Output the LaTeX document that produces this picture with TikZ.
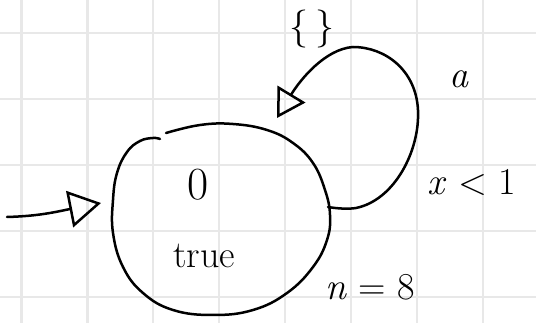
\documentclass[tikz,border=0pt]{standalone}
\usetikzlibrary{arrows.meta,shapes.geometric}
\tikzset{
  gridline/.style={draw=black!9, line width=2.2pt},
  stroke/.style={draw=black, line width=2.5pt, line cap=round, line join=round},
  hand/.style={font=\fontsize{38}{44}\selectfont, inner sep=0pt},
  opentip/.style={-{Triangle[open, length=#1, width=1.15*#1, line width=2.5pt]}}
}
\begin{document}
\begin{tikzpicture}[x=1pt,y=-1pt]
\useasboundingbox[fill=white] (0,0) rectangle (536,323);
% grid
\foreach \gx in {21.5,87.4,153.3,219.2,285.1,351,416.9,482.8}
  \draw[gridline] (\gx,0) -- (\gx,323);
\foreach \gy in {33,99,165,231,297}
  \draw[gridline] (0,\gy) -- (536,\gy);
% state node (outline drawn by hand below)
\node[ellipse, minimum width=217pt, minimum height=190pt, inner sep=0pt] (q0) at (222,220) {};
\draw[stroke] plot[smooth, tension=0.7] coordinates {(166,133) (200,125) (233,124) (267,130) (293,143) (313,163) (325,190) (330,215) (327,240) (313,267) (287,293) (253,310) (213,315) (173,310) (143,293) (123,267) (113,233) (113,200) (117,173) (127,152) (140,141) (153,138) (160,139)};
\node[hand, font=\fontsize{46}{50}\selectfont, anchor=base] (loc) at (198,200) {0};
\node[hand, anchor=base] (inv) at (204,268) {true};
% initial arrow
\coordinate (start) at (7,217);
\coordinate (init) at (101,203);
\draw[stroke, opentip=32pt] (start) .. controls (40,216) and (55,212) .. (init);
% self loop
\coordinate (loopout) at (328,207);
\coordinate (loopin) at (277,118);
\draw[stroke, opentip=28pt] (loopout) .. controls (340,209) and (350,209) .. (356,208)
  .. controls (395,200) and (420,150) .. (418,110)
  .. controls (416,70) and (385,47) .. (353,47)
  .. controls (325,49) and (300,80) .. (loopin);
% labels
\node[hand] (reset) at (312,29) {\{\,\}};
\node[hand, anchor=base] (act) at (459,88) {\textit{a}};
\node[hand, anchor=base] (guard) at (472,195) {\textit{x} < 1};
\node[hand, anchor=base] (extra) at (370,300) {\textit{n} = 8};
\end{tikzpicture}
\end{document}
